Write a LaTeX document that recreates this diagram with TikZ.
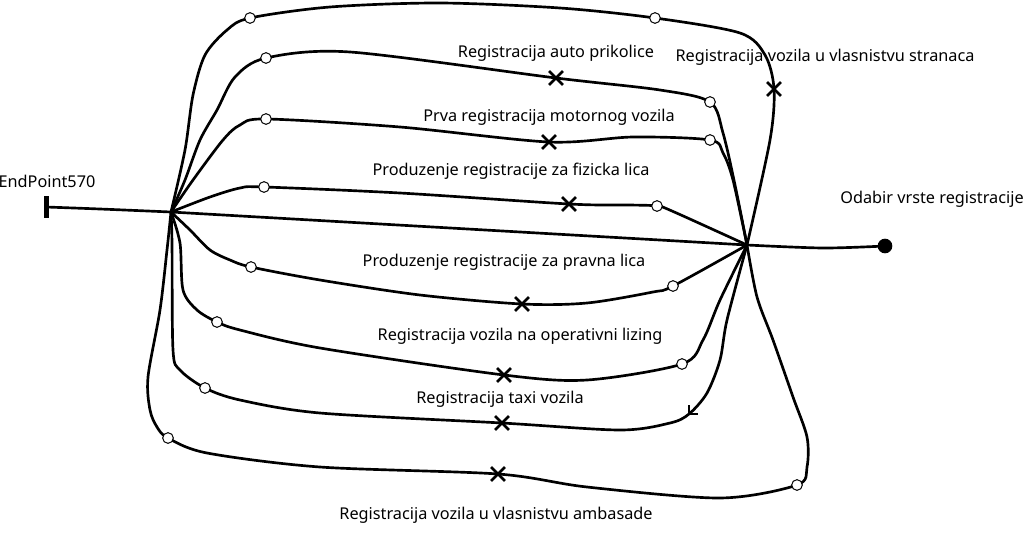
\documentclass[tikz,border=0pt]{standalone}
\usepackage{fontspec}
\setmainfont{Noto Sans}
\usetikzlibrary{shapes.misc,backgrounds}

\begin{document}
\begin{tikzpicture}[x=0.75pt, y=-0.75pt,
    flow/.style={line width=2pt},
    wp/.style={circle, draw, fill=white, line width=0.75pt, inner sep=0pt, minimum size=8pt},
    xm/.style={cross out, draw, line width=1.9pt, inner sep=0pt, minimum size=8.5pt},
    lbl/.style={font=\fontsize{12.2}{14.6}\selectfont, inner sep=0pt}]
  \useasboundingbox (0,0) rectangle (1027,532);

  \node[fill, inner sep=0pt, minimum width=3.75pt, minimum height=16pt] (endpt) at (46,207) {};
  \node[circle, fill, inner sep=0pt, minimum size=11pt] (start) at (885,246) {};
  \coordinate (L) at (171,212);
  \coordinate (R) at (747,245);
  \node[lbl] (endlbl) at (47,181) {EndPoint570};
  \node[lbl] (startlbl) at (932,199) {Odabir vrste registracije};

  \node[wp] (s1) at (250,18) {};
  \node[wp] (s2) at (655,18) {};
  \node[xm] (sx) at (774,89) {};
  \node[lbl] (slbl) at (825,57) {Registracija vozila u vlasnistvu stranaca};

  \node[wp] (p1) at (266,58) {};
  \node[wp] (p2) at (710,102) {};
  \node[xm] (px) at (556,78) {};
  \node[lbl] (plbl) at (556,53) {Registracija auto prikolice};

  \node[wp] (m1) at (266,119) {};
  \node[wp] (m2) at (710,140) {};
  \node[xm] (mx) at (549,142) {};
  \node[lbl] (mlbl) at (549,117) {Prva registracija motornog vozila};

  \node[wp] (f1) at (264,187) {};
  \node[wp] (f2) at (657,206) {};
  \node[xm] (fx) at (569,204) {};
  \node[lbl] (flbl) at (511,171) {Produzenje registracije za fizicka lica};

  \node[wp] (v1) at (251,267) {};
  \node[wp] (v2) at (673,286) {};
  \node[xm] (vx) at (522,304) {};
  \node[lbl] (vlbl) at (504,262) {Produzenje registracije za pravna lica};

  \node[wp] (o1) at (217,322) {};
  \node[wp] (o2) at (682,364) {};
  \node[xm] (ox) at (504,375) {};
  \node[lbl] (olbl) at (520,336) {Registracija vozila na operativni lizing};

  \node[wp] (t1) at (205,388) {};
  \coordinate (tt) at (689,414);
  \node[xm] (tx) at (502,423) {};
  \node[lbl] (tlbl) at (500,399) {Registracija taxi vozila};

  \node[wp] (a1) at (168,438) {};
  \node[wp] (a2) at (797,485) {};
  \node[xm] (ax) at (498,474) {};
  \node[lbl] (albl) at (496,515) {Registracija vozila u vlasnistvu ambasade};

  \begin{scope}[on background layer]
  \begin{scope}[flow]
    \draw plot[smooth] coordinates {(endpt) (100,209) (L)};
    \draw (L) -- (R);
    \draw plot[smooth] coordinates {(R) (823,248) (start)};
    \draw plot[smooth] coordinates {(L) (185,150) (193,95) (205,55) (227,30) (s1) (330,7) (440,3) (560,8) (s2) (740,33) (765,55) (sx) (770,140) (R)};
    \draw plot[smooth] coordinates {(L) (185,180) (200,140) (217,110) (235,77) (p1) (350,52) (px) (660,90) (p2) (723,133) (735,185) (R)};
    \draw plot[smooth] coordinates {(L) (193,180) (223,140) (240,125) (m1) (400,127) (mx) (633,137) (m2) (723,153) (733,180) (R)};
    \draw plot[smooth] coordinates {(L) (210,197) (240,188) (f1) (400,193) (fx) (630,205) (f2) (672,211) (R)};
    \draw plot[smooth] coordinates {(L) (190,230) (210,250) (230,260) (v1) (320,280) (420,295) (vx) (587,303) (653,292) (v2) (R)};
    \draw plot[smooth] coordinates {(L) (180,243) (183,290) (197,310) (o1) (240,330) (320,348) (ox) (587,380) (o2) (703,340) (720,300) (R)};
    \draw plot[smooth] coordinates {(L) (172,243) (173,350) (180,370) (t1) (240,400) (320,413) (tx) (620,430) (670,423) (tt) (707,393) (720,360) (727,320) (R)};
    \draw plot[smooth] coordinates {(L) (167,250) (160,310) (148,377) (150,410) (157,427) (a1) (207,453) (320,467) (ax) (587,487) (720,498) (a2) (807,467) (807,437) (793,397) (773,340) (757,297) (R)};
    \draw (tt) ++(0,-9) -- (tt) -- ++(9,0);
  \end{scope}
  \end{scope}
\end{tikzpicture}
\end{document}
